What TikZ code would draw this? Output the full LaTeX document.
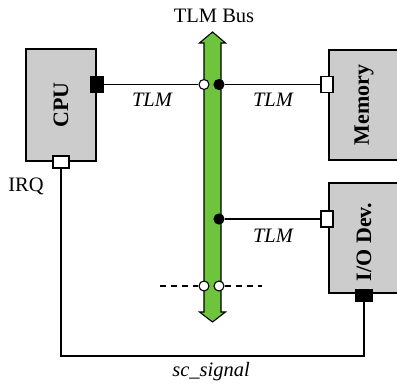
\documentclass[tikz,border=0pt]{standalone}
\usepackage{fontspec}
\setmainfont{Liberation Serif}
\definecolor{busgreen}{RGB}{110,196,60}
\definecolor{boxgray}{RGB}{204,204,204}
\begin{document}
\begin{tikzpicture}[x=1pt,y=-1pt,
  box/.style={draw=black,line width=1.1pt,fill=boxgray},
  wire/.style={draw=black,line width=1.1pt},
  wport/.style={draw=black,line width=1.1pt,fill=white,inner sep=0pt,minimum width=12pt,minimum height=16pt},
  bport/.style={draw=black,line width=1.1pt,fill=black,inner sep=0pt,minimum width=12pt,minimum height=16pt},
  hport/.style={draw=black,line width=1.1pt,fill=white,inner sep=0pt,minimum width=16pt,minimum height=12pt},
  hbport/.style={draw=black,line width=1.1pt,fill=black,inner sep=0pt,minimum width=16pt,minimum height=12pt},
  wdot/.style={circle,draw=black,line width=1.1pt,fill=white,inner sep=0pt,minimum size=10pt},
  bdot/.style={circle,draw=black,line width=1.1pt,fill=black,inner sep=0pt,minimum size=10pt},
  lbl/.style={font=\fontsize{20.5}{22}\selectfont,inner sep=0pt},
  tlm/.style={font=\fontsize{20.5}{22}\selectfont\itshape,inner sep=0pt},
  blbl/.style={font=\fontsize{22}{24}\selectfont\bfseries,inner sep=0pt,rotate=90}
]
\useasboundingbox (0,0) rectangle (397,387);
% boxes
\node[box,minimum width=70pt,minimum height=112pt,inner sep=0pt] (cpu) at (61,105) {};
\node[blbl] at (cpu.center) {CPU};
\node[box,minimum width=70pt,minimum height=110pt,inner sep=0pt] (mem) at (364,105) {};
\node[blbl] at (mem.center) {Memory};
\node[box,minimum width=70pt,minimum height=110pt,inner sep=0pt] (io) at (364,238) {};
\node[blbl] at (364,242) {I/O Dev.};
% bus
\draw[line width=1.1pt,fill=busgreen]
  (204,43) -- (199.5,43) -- (212.5,32) -- (225.5,43) -- (221,43)
  -- (221,312) -- (225.5,312) -- (212.5,322) -- (199.5,312) -- (204,312) -- cycle;
\node[lbl] (busl) at (214,16) {TLM Bus};
% ports
\node[bport] (cpup) at (97,84.5) {};
\node[hport] (irqp) at (61,162) {};
\node[wport] (memp) at (327,84.5) {};
\node[wport] (iop) at (327,219) {};
\node[hbport] (iobp) at (364,295.5) {};
% bus dots
\node[wdot] (w1) at (204,84.5) {};
\node[bdot] (b1) at (219,84.5) {};
\node[bdot] (b2) at (219,219) {};
\node[wdot] (w3) at (204,286) {};
\node[wdot] (w4) at (219,286) {};
% wires
\draw[wire] (cpup.east) -- (w1.west);
\draw[wire] (b1.east) -- (memp.west);
\draw[wire] (b2.east) -- (iop.west);
\coordinate (c1) at (61,356);
\coordinate (c2) at (364,356);
\draw[wire] (irqp.south) -- (c1) -- (c2) -- (iobp.south);
\coordinate (d1) at (160,286);
\coordinate (d2) at (262,286);
\draw[wire,dash pattern=on 6pt off 5pt] (d1) -- (w3.west);
\draw[wire,dash pattern=on 6pt off 5pt] (w4.east) -- (d2);
% labels
\node[tlm] (t1) at (152,100) {TLM};
\node[tlm] (t2) at (273,100) {TLM};
\node[tlm] (t3) at (273,236) {TLM};
\node[lbl] (irq) at (26,186) {IRQ};
\node[tlm] (sc) at (211,372) {sc\_signal};
\end{tikzpicture}
\end{document}
